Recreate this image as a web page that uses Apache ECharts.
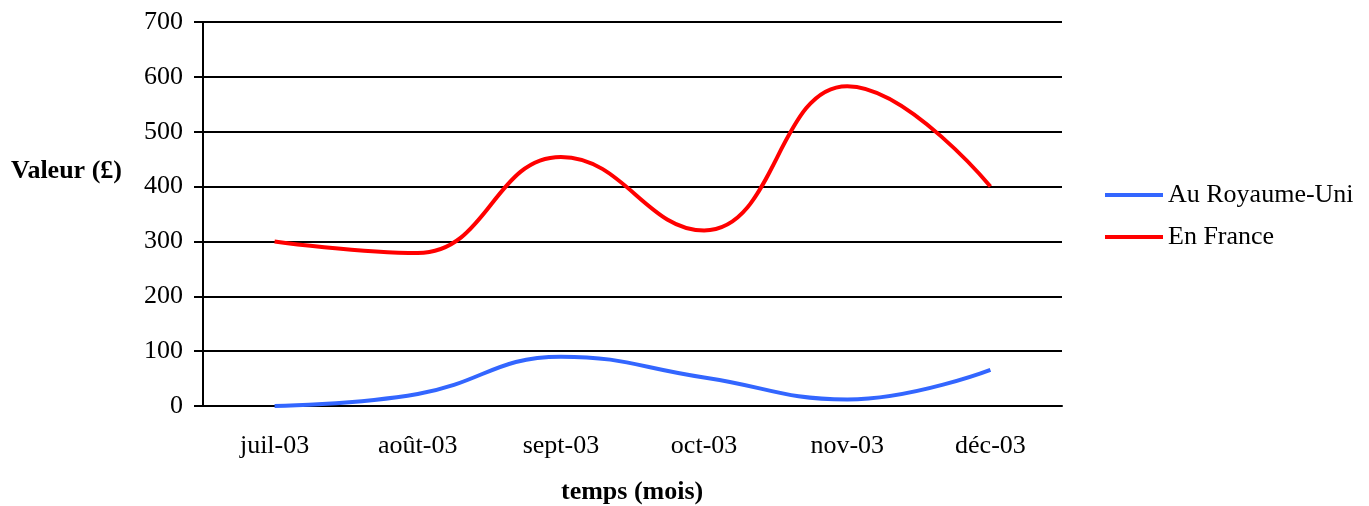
<!DOCTYPE html>
<html>
<head>
<meta charset="utf-8">
<script src="https://cdn.jsdelivr.net/npm/echarts@6/dist/echarts.min.js"></script>
<style>
  html, body { margin: 0; padding: 0; background: #fff; }
  #chart { width: 1369px; height: 506px; }
</style>
</head>
<body>
<div id="chart"></div>
<script>
// mois
const months = ["juil-03", "août-03", "sept-03", "oct-03", "nov-03", "déc-03"];
// valeurs
const ukValues = [0, 22, 90, 52, 12, 66];
const franceValues = [300, 279, 454, 320, 583, 400];
const yTicks = [0, 100, 200, 300, 400, 500, 600, 700];

const serif = "'Liberation Serif', 'Times New Roman', serif";

const chart = echarts.init(document.getElementById("chart"));

chart.setOption({
  animation: false,
  backgroundColor: "#fff",
  grid: { left: 203, right: 307, top: 22, bottom: 100, containLabel: false },
  legend: {
    orient: "vertical",
    left: 1100,
    top: 177,
    itemWidth: 58,
    itemHeight: 4,
    itemGap: 16,
    icon: "rect",
    textStyle: { fontFamily: serif, fontSize: 26, color: "#000" },
    data: ["Au Royaume-Uni", "En France"]
  },
  xAxis: {
    type: "category",
    data: months,
    boundaryGap: true,
    axisTick: { show: false },
    axisLine: { lineStyle: { color: "#000", width: 2 } },
    axisLabel: { fontFamily: serif, fontSize: 26, color: "#000", margin: 27 }
  },
  yAxis: {
    type: "value",
    min: yTicks[0],
    max: yTicks[yTicks.length - 1],
    interval: 100,
    axisLine: { show: true, lineStyle: { color: "#000", width: 2 } },
    axisTick: { show: true, length: 9, lineStyle: { color: "#000", width: 2 } },
    axisLabel: { fontFamily: serif, fontSize: 26, color: "#000", margin: 20 },
    splitLine: { lineStyle: { color: "#000", width: 2 } }
  },
  graphic: [
    {
      type: "text",
      left: 11,
      top: 158,
      style: { text: "Valeur (£)", font: "bold 26px " + serif, fill: "#000" }
    },
    {
      type: "text",
      left: 561,
      top: 479,
      style: { text: "temps (mois)", font: "bold 26px " + serif, fill: "#000" }
    }
  ],
  series: [
    {
      name: "Au Royaume-Uni",
      type: "line",
      data: ukValues,
      smooth: 0.45,
      showSymbol: false,
      color: "#3366ff",
      lineStyle: { width: 4, color: "#3366ff" }
    },
    {
      name: "En France",
      type: "line",
      data: franceValues,
      smooth: 0.45,
      showSymbol: false,
      color: "#ff0000",
      lineStyle: { width: 4, color: "#ff0000" }
    }
  ]
});
</script>
</body>
</html>
